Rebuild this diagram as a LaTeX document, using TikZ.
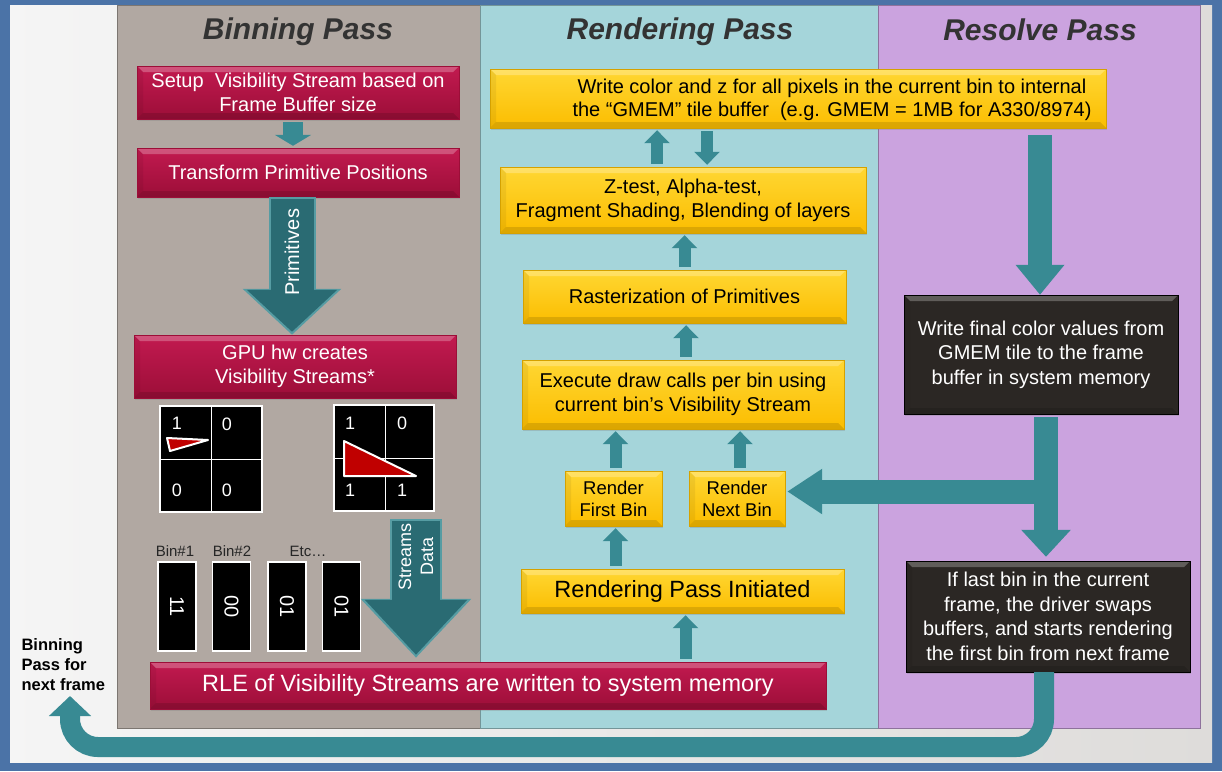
\documentclass[tikz,border=0pt]{standalone}
\usepackage{fontspec}
\setmainfont{Liberation Sans}
\usetikzlibrary{arrows.meta,shadows}
\definecolor{slideblue}{HTML}{4B73A7}
\definecolor{slidebg}{HTML}{DEDCDA}
\definecolor{binpanel}{HTML}{B1A8A2}
\definecolor{renpanel}{HTML}{A5D5DA}
\definecolor{respanel}{HTML}{CBA3DF}
\definecolor{redtop}{HTML}{C21A50}
\definecolor{redbot}{HTML}{9C0E38}
\definecolor{yeltop}{HTML}{FFD733}
\definecolor{yelbot}{HTML}{FBBD00}
\definecolor{blkfill}{HTML}{2B2724}
\definecolor{arrowteal}{HTML}{388A93}
\definecolor{darkteal}{HTML}{2A6B73}
\definecolor{titlegrey}{HTML}{333333}
\definecolor{trired}{HTML}{C00000}
\begin{document}
\begin{tikzpicture}[x=1pt,y=-1pt,
	every node/.style={font=\fontsize{20}{24}\selectfont},
	passbox/.style={rectangle,inner sep=2pt,align=center,
		drop shadow={opacity=0.3,shadow xshift=1pt,shadow yshift=-2pt},
		path picture={
			\fill[white,opacity=0.25] (path picture bounding box.north west) -- (path picture bounding box.north east)
				-- ([xshift=-6pt,yshift=-6pt]path picture bounding box.north east)
				-- ([xshift=6pt,yshift=-6pt]path picture bounding box.north west) -- cycle;
			\fill[black,opacity=0.12] (path picture bounding box.south west) -- (path picture bounding box.south east)
				-- ([xshift=-6pt,yshift=6pt]path picture bounding box.south east)
				-- ([xshift=6pt,yshift=6pt]path picture bounding box.south west) -- cycle;
			\fill[black,opacity=0.06] (path picture bounding box.north west) -- (path picture bounding box.south west)
				-- ([xshift=6pt,yshift=6pt]path picture bounding box.south west)
				-- ([xshift=6pt,yshift=-6pt]path picture bounding box.north west) -- cycle;
		}},
	redbox/.style={passbox,top color=redtop,bottom color=redbot,draw=redbot,text=white},
	yelbox/.style={passbox,top color=yeltop,bottom color=yelbot,draw=yelbot!85!black,text=black},
	blkbox/.style={passbox,fill=blkfill,draw=black,text=white,font=\fontsize{20}{24.5}\selectfont},
	title/.style={font=\fontsize{30}{34}\selectfont\bfseries\itshape,text=titlegrey},
	grid/.style={rectangle,fill=black,draw=white,line width=1.5pt},
	gridnum/.style={text=white,font=\fontsize{18}{20}\selectfont},
	binstrip/.style={rectangle,fill=black,draw=white,line width=1.5pt,rotate=-90,
		minimum width=89pt,minimum height=38pt,text=white},
	binlabel/.style={font=\fontsize{15}{18}\selectfont,text=black!85},
	smallarr/.style={arrowteal,line width=12pt,-{Triangle[width=25pt,length=13pt]},
		shorten <=3pt,shorten >=2pt},
	primlabel/.style={text=white,align=center}]
\useasboundingbox (0,0) rectangle (1222,771);
\fill[slideblue] (0,0) rectangle (1222,771);
\shade[left color=white!96!black,right color=slidebg] (10,5) rectangle (1212,762);
\fill[binpanel] (117,5) rectangle (480,728);
\fill[renpanel] (480,5) rectangle (878,728);
\fill[respanel] (878,5) rectangle (1200,728);
\draw[binpanel!70!black,line width=1pt] (117,5) rectangle (480,728);
\draw[renpanel!70!black,line width=1pt] (480,5) rectangle (878,728);
\draw[respanel!70!black,line width=1pt] (878,5) rectangle (1200,728);

\node[title] (bintitle) at (298,32) {Binning Pass};
\node[title] (rentitle) at (680,32) {Rendering Pass};
\node[title] (restitle) at (1040,30) {Resolve Pass};

\node[redbox,minimum width=322pt,minimum height=53pt] (setup) at (298,92.5)
	{Setup\ \ Visibility Stream based on\\Frame Buffer size};
\node[redbox,minimum width=322pt,minimum height=49pt] (trans) at (298,172.5)
	{Transform Primitive Positions};
\node[redbox,minimum width=322pt,minimum height=63pt] (gpu) at (295,366.5)
	{GPU hw creates\\Visibility Streams*};
\node[redbox,minimum width=676pt,minimum height=47pt,font=\fontsize{23.5}{26}\selectfont] (rle) at (488,685.5)
	{RLE of Visibility Streams are written to system memory};

\node[grid,minimum width=102pt,minimum height=106pt] (g1) at (211,459) {};
\node[grid,minimum width=100pt,minimum height=106pt] (g2) at (384,458) {};
\draw[white,line width=1pt] (g1.north) -- (g1.south) (g1.west) -- (g1.east);
\draw[white,line width=1pt] ([xshift=1pt]g2.north) -- ([xshift=1pt]g2.south) (g2.west) -- (g2.east);
\filldraw[fill=trired,draw=white,line width=2pt,line join=round] (167,438) -- (208,440) -- (170,451) -- cycle;
\filldraw[fill=trired,draw=white,line width=2pt,line join=round] (344,441) -- (344,476) -- (416,476) -- cycle;
\foreach \n/\x/\y/\t in {a/177/423/1,b/227/424/0,c/177/490/0,d/227/490/0}
	\node[gridnum] (g1\n) at (\x,\y) {\t};
\foreach \n/\x/\y/\t in {a/350/423/1,b/402/423/0,c/350/490/1,d/402/490/1}
	\node[gridnum] (g2\n) at (\x,\y) {\t};

\node[binlabel] (lab1) at (175,551) {Bin\#1};
\node[binlabel] (lab2) at (232,551) {Bin\#2};
\node[binlabel] (lab3) at (308,551) {Etc…};
\foreach \n/\x/\t in {1/177/11,2/231.5/00,3/287/01,4/341.5/01}
	\node[binstrip] (strip\n) at (\x,606.5) {\t};

\node[anchor=west,align=left,font=\fontsize{16.5}{20}\selectfont\bfseries] (nextlabel) at (18,665)
	{Binning\\Pass for\\next frame};

\node[yelbox,minimum width=616pt,minimum height=59pt] (wc) at (798,98.5) {};
\node[align=center,font=\fontsize{20}{23}\selectfont] (wctext) at (832,99.5)
	{Write color and z for all pixels in the current bin to internal\\the ``GMEM'' tile buffer\ \ (e.g. GMEM = 1MB for A330/8974)};
\node[yelbox,minimum width=366pt,minimum height=66pt] (zt) at (683,200)
	{Z-test, Alpha-test,\\Fragment Shading, Blending of layers};
\node[yelbox,minimum width=323pt,minimum height=53pt] (ras) at (684.5,296.5)
	{Rasterization of Primitives};
\node[yelbox,minimum width=322pt,minimum height=69pt] (exe) at (683,394.5)
	{Execute draw calls per bin using\\current bin's Visibility Stream};
\node[yelbox,minimum width=97pt,minimum height=55pt,font=\fontsize{18.5}{22}\selectfont] (fb) at (613.5,498.5)
	{Render\\First Bin};
\node[yelbox,minimum width=96pt,minimum height=55pt,font=\fontsize{18.5}{22}\selectfont] (nb) at (737,498.5)
	{Render\\Next Bin};
\node[yelbox,minimum width=323pt,minimum height=44pt,font=\fontsize{23.5}{26}\selectfont] (init) at (682.5,591)
	{\raisebox{-3pt}{Rendering Pass Initiated}};

\node[blkbox,minimum width=274pt,minimum height=119pt] (wf) at (1041,354.5)
	{Write final color values from\\GMEM tile to the frame\\buffer in system memory};
\node[blkbox,minimum width=284pt,minimum height=111pt] (last) at (1048,616.5)
	{If last bin in the current\\frame, the driver swaps\\buffers, and starts rendering\\the first bin from next frame};

\draw[arrowteal,line width=20pt,-{Triangle[width=36pt,length=11pt]},shorten <=3pt,shorten >=2pt]
	([xshift=-5pt]setup.south) -- ([xshift=-5pt]trans.north);
\draw[arrowteal!85!white,line width=47pt,-{Triangle[width=96pt,length=46pt]},shorten <=0pt]
	([xshift=-6pt]trans.south) -- ([xshift=-6pt]trans.south |- gpu.north);
\draw[darkteal,line width=43pt,-{Triangle[width=88pt,length=42pt]},shorten <=2pt,shorten >=3pt]
	([xshift=-6pt]trans.south) -- node[primlabel,pos=0.4,rotate=90,font=\fontsize{20}{24}\selectfont] (primtext) {Primitives}
	([xshift=-6pt]trans.south |- gpu.north);
\draw[arrowteal!85!white,line width=52pt,-{Triangle[width=107pt,length=59pt]},shorten <=7pt,shorten >=4pt]
	([xshift=32pt]g2.south) -- ([xshift=32pt]g2.south |- rle.north);
\draw[darkteal,line width=48pt,-{Triangle[width=99pt,length=55pt]},shorten <=9pt,shorten >=7pt]
	([xshift=32pt]g2.south) -- node[primlabel,pos=0.3,rotate=90,font=\fontsize{18}{22}\selectfont] (streamtext) {Streams\\Data}
	([xshift=32pt]g2.south |- rle.north);

\draw[smallarr] ([xshift=-26pt]zt.north) -- ([xshift=-26pt]zt.north |- wc.south);
\draw[smallarr] ([xshift=24pt]zt.north |- wc.south) -- ([xshift=24pt]zt.north);
\draw[smallarr] (ras.north) -- (ras.north |- zt.south);
\draw[smallarr] ([xshift=3pt]exe.north) -- ([xshift=3pt]exe.north |- ras.south);
\draw[smallarr] ([xshift=2pt]fb.north) -- ([xshift=2pt]fb.north |- exe.south);
\draw[smallarr] ([xshift=3pt]nb.north) -- ([xshift=3pt]nb.north |- exe.south);
\draw[smallarr] ([xshift=2pt]fb.south |- init.north) -- ([xshift=2pt]fb.south);
\draw[smallarr] ([xshift=3pt]init.south |- rle.north) -- ([xshift=3pt]init.south);

\draw[arrowteal,line width=24pt,-{Triangle[width=47pt,length=30pt]},shorten <=7pt]
	([xshift=-1pt]wf.north |- wc.south) -- ([xshift=-1pt]wf.north);
\coordinate (nbin) at ([yshift=7pt]nb.east);
\draw[arrowteal,line width=24pt,-{Triangle[width=43pt,length=35pt]},shorten >=2pt]
	([xshift=-2pt]last.north |- nbin) -- (nbin);
\draw[arrowteal,line width=24pt,-{Triangle[width=48pt,length=27pt]},shorten <=3pt,shorten >=4pt]
	([xshift=-2pt]last.north |- wf.south) -- ([xshift=-2pt]last.north);

\coordinate (nextframe) at (70,696);
\coordinate (ucorner) at (70,747);
\draw[arrowteal,line width=20pt,rounded corners=28pt,-{Triangle[width=41pt,length=20pt]}]
	([xshift=-4pt]last.south) |- (ucorner) -- (nextframe);
\end{tikzpicture}
\end{document}
